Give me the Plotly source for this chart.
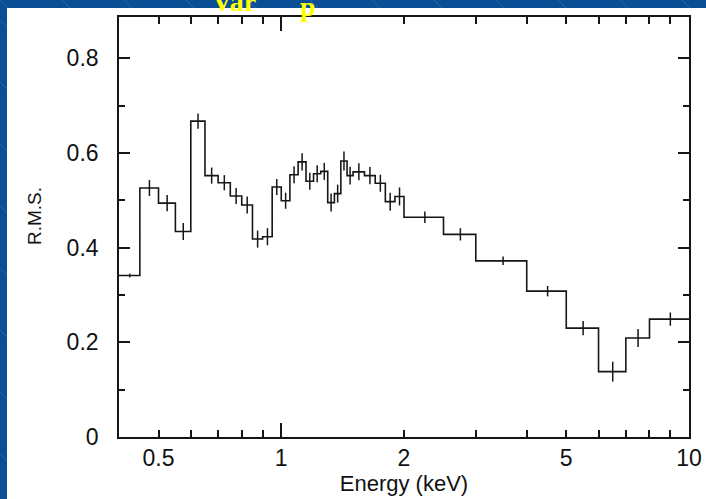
import plotly.graph_objects as go
import numpy as np

# bin edges (keV) and RMS values
edges = [0.4, 0.45, 0.5, 0.55, 0.6, 0.65, 0.7, 0.75, 0.8, 0.85, 0.9, 0.95, 1.0,
         1.05, 1.1, 1.15, 1.2, 1.25, 1.3, 1.35, 1.4, 1.45, 1.5, 1.6, 1.7, 1.8,
         1.9, 2.0, 2.5, 3.0, 4.0, 5.0, 6.0, 7.0, 8.0, 10.0]
rms = [0.341, 0.526, 0.494, 0.434, 0.667, 0.552, 0.537, 0.509, 0.490, 0.418,
       0.423, 0.528, 0.499, 0.554, 0.581, 0.540, 0.556, 0.561, 0.495, 0.514,
       0.583, 0.552, 0.560, 0.552, 0.536, 0.497, 0.508, 0.464, 0.428, 0.372,
       0.308, 0.230, 0.138, 0.209, 0.249]
rms_err = [0.004, 0.017, 0.017, 0.018, 0.016, 0.017, 0.016, 0.017, 0.018, 0.018,
           0.018, 0.017, 0.017, 0.018, 0.018, 0.018, 0.018, 0.018, 0.019, 0.019,
           0.020, 0.019, 0.018, 0.018, 0.018, 0.019, 0.019, 0.012, 0.013, 0.009,
           0.011, 0.015, 0.021, 0.019, 0.014]

x_tickvals = [0.5, 1, 2, 5, 10]
x_ticktext = ["0.5", "1", "2", "5", "10"]
x_minor = [0.6, 0.7, 0.8, 0.9, 3, 4, 6, 7, 8, 9]
x_decades = [1, 10]
y_tickvals = [0, 0.2, 0.4, 0.6, 0.8]
y_ticktext = ["0", "0.2", "0.4", "0.6", "0.8"]
y_minor = [0.1, 0.3, 0.5, 0.7]

centers = [(a + b) / 2 for a, b in zip(edges[:-1], edges[1:])]
step_y = rms + [rms[-1]]

W, H = 706, 499
L, R, T, B = 119, 17, 17, 62
pw, ph = W - L - R, H - T - B

def px_x(p):
    return (p - L) / pw

def px_y(p):
    return (H - B - p) / ph

INK = "#161616"
BLUE = "#0a4f96"
STRIP_L, STRIP_T = 7, 8

fig = go.Figure()
fig.add_trace(go.Scatter(x=edges, y=step_y, mode="lines", line=dict(color=INK, width=1.6, shape="hv"),
                         showlegend=False, hoverinfo="skip"))
fig.add_trace(go.Scatter(x=centers, y=rms, mode="markers", marker=dict(size=1, color=INK, opacity=0),
                         error_y=dict(type="data", array=rms_err, visible=True, color=INK, thickness=1.5, width=0),
                         showlegend=False, xaxis="x2"))

tick_font = dict(family="Liberation Sans, Arial, sans-serif", size=23, color="#111111")
title_font = dict(family="Liberation Sans, Arial, sans-serif", size=22, color="#111111")
xr = [np.log10(0.4), 1.0]

# slide background strips (blue) around the pasted white figure
shapes = [
    dict(type="rect", xref="paper", yref="paper", x0=px_x(-2), x1=px_x(W + 2), y0=px_y(STRIP_T), y1=px_y(-2),
         fillcolor=BLUE, line=dict(width=0), layer="below"),
    dict(type="rect", xref="paper", yref="paper", x0=px_x(-2), x1=px_x(STRIP_L), y0=px_y(H + 2), y1=px_y(-2),
         fillcolor=BLUE, line=dict(width=0), layer="below"),
]
# faint diagonal texture lines, only inside the blue strips
for k in range(-10, 16):
    c = k * 62  # line: y = x - c
    xa, xb = c, c + STRIP_T
    if xb > 0 and xa < W:
        shapes.append(dict(type="line", xref="paper", yref="paper", x0=px_x(max(xa, 0)), y0=px_y(max(xa, 0) - c),
                           x1=px_x(min(xb, W)), y1=px_y(min(xb, W) - c),
                           line=dict(color="#2a68ab", width=0.8), layer="below"))
for k in range(-2, 10):
    c = -k * 62 - 20
    ya, yb = -c, STRIP_L - c
    if yb > STRIP_T and ya < H:
        shapes.append(dict(type="line", xref="paper", yref="paper", x0=px_x(0), y0=px_y(ya),
                           x1=px_x(STRIP_L), y1=px_y(yb),
                           line=dict(color="#2a68ab", width=0.8), layer="below"))

fig.update_layout(
    width=W, height=H,
    margin=dict(l=L, r=R, t=T, b=B, autoexpand=False),
    paper_bgcolor="white",
    plot_bgcolor="white",
    shapes=shapes,
    xaxis=dict(type="log", range=xr, tickvals=x_tickvals, ticktext=x_ticktext, ticks="inside", ticklen=7,
               tickwidth=1.5, tickcolor=INK, showline=True, linecolor=INK, linewidth=1.6, mirror="ticks",
               showgrid=False, zeroline=False, tickfont=tick_font, ticklabelstandoff=0, automargin=False,
               minor=dict(tickvals=x_minor, ticks="inside", ticklen=7, tickwidth=1.5, tickcolor=INK, showgrid=False),
               title=dict(text="Energy (keV)", font=title_font, standoff=4)),
    xaxis2=dict(type="log", range=xr, overlaying="x", anchor="y", side="bottom", tickvals=x_decades,
                ticks="inside", ticklen=14, tickwidth=1.5, tickcolor=INK, showticklabels=False, automargin=False,
                showline=False, mirror="ticks", showgrid=False, zeroline=False),
    yaxis=dict(range=[0, 0.887], tickvals=y_tickvals, ticktext=y_ticktext, ticks="inside", ticklen=11,
               tickwidth=1.5, tickcolor=INK, showline=True, linecolor=INK, linewidth=1.6, mirror="ticks",
               showgrid=False, zeroline=False, tickfont=tick_font, ticklabelstandoff=14, automargin=False,
               minor=dict(tickvals=y_minor, ticks="inside", ticklen=6, tickwidth=1.5, tickcolor=INK, showgrid=False)),
    annotations=[
        dict(text="R.M.S.", xref="paper", yref="paper", x=px_x(34), y=px_y(216), xanchor="center",
             yanchor="middle", textangle=-90, showarrow=False,
             font=dict(family="Liberation Sans, Arial, sans-serif", size=19, color="#111111")),
        dict(text="<b>Var</b>", xref="paper", yref="paper", x=px_x(234), y=px_y(19), xanchor="center",
             yanchor="bottom", showarrow=False,
             font=dict(family="Liberation Serif, serif", size=28, color="#ffff00")),
        dict(text="<b>p</b>", xref="paper", yref="paper", x=px_x(308), y=px_y(24), xanchor="center",
             yanchor="bottom", showarrow=False,
             font=dict(family="Liberation Serif, serif", size=28, color="#ffff00")),
    ],
)

fig.write_html("out.html")
